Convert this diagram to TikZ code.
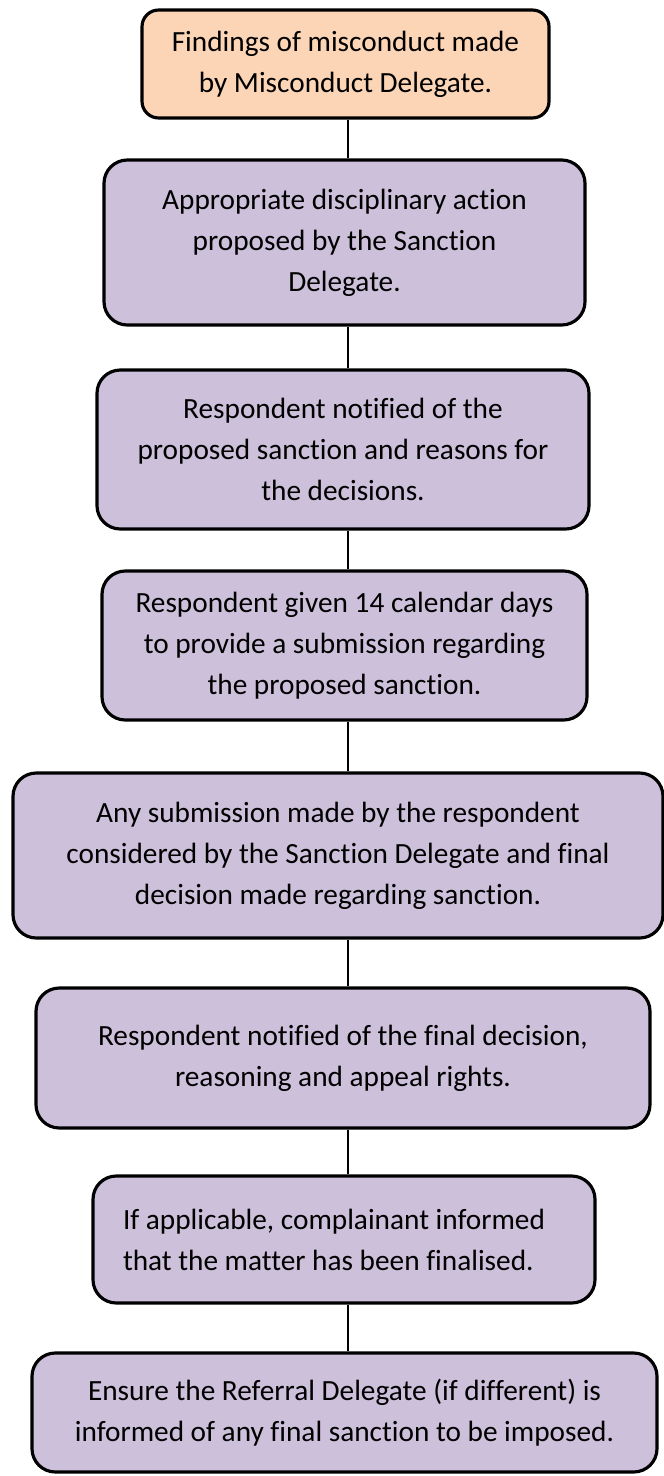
\documentclass[tikz,border=0pt]{standalone}
\usepackage{fontspec}
\setmainfont{Carlito}[Ligatures={NoCommon,NoRequired,NoContextual}]
\usepackage{tikz}
\usetikzlibrary{positioning}
\definecolor{findfill}{HTML}{FBD5B5}
\definecolor{stepfill}{HTML}{CCC0DA}
\tikzset{
  blk/.style   = {draw=black, line width=2.7pt, rounded corners=0.7cm, align=center,
                  font=\fontsize{25pt}{35pt}\selectfont, inner sep=4pt},
  finding/.style = {blk, fill=findfill, rounded corners=0.5cm},
  stage/.style = {blk, fill=stepfill},
  link/.style  = {line width=2.2pt},
}

\begin{document}
\begin{tikzpicture}

\useasboundingbox (0,0) rectangle (19.92,-44.28);

\node[finding, minimum width=12.21cm, minimum height=3.24cm] (find) at (10.365,-1.92)
     {Findings of misconduct made\\
      by Misconduct Delegate.};

\node[stage, minimum width=14.43cm, minimum height=4.95cm] (propose) at (10.335,-7.275)
     {Appropriate disciplinary action\\
      proposed by the Sanction\\
      Delegate.};

\node[stage, minimum width=14.76cm, minimum height=4.77cm] (notify) at (10.29,-13.485)
     {Respondent notified of the\\
      proposed sanction and reasons for\\
      the decisions.};

\node[stage, minimum width=14.55cm, minimum height=4.47cm] (days) at (10.335,-19.365)
     {Respondent given 14 calendar days\\
      to provide a submission regarding\\
      the proposed sanction.};

\node[stage, minimum width=19.5cm, minimum height=4.95cm] (consider) at (10.14,-25.665)
     {Any submission made by the respondent\\
      considered by the Sanction Delegate and final\\
      decision made regarding sanction.};

\node[stage, minimum width=18.42cm, minimum height=4.2cm] (final) at (10.29,-31.74)
     {Respondent notified of the final decision,\\
      reasoning and appeal rights.};

\node[stage, align=flush left, text width=13.26cm, inner xsep=0.9cm,
      minimum height=3.81cm] (inform) at (10.32,-37.185)
     {If applicable, complainant informed\\
      that the matter has been finalised.};

\node[stage, minimum width=18.75cm, minimum height=3.57cm] (referral) at (10.335,-42.375)
     {Ensure the Referral Delegate (if different) is\\
      informed of any final sanction to be imposed.};

\coordinate (spine) at (10.44,0);
\foreach \a/\b in {find/propose, propose/notify, notify/days, days/consider,
                   consider/final, final/inform, inform/referral}{
  \draw[link] (\a.south -| spine) -- (\b.north -| spine);}
\end{tikzpicture}
\end{document}
